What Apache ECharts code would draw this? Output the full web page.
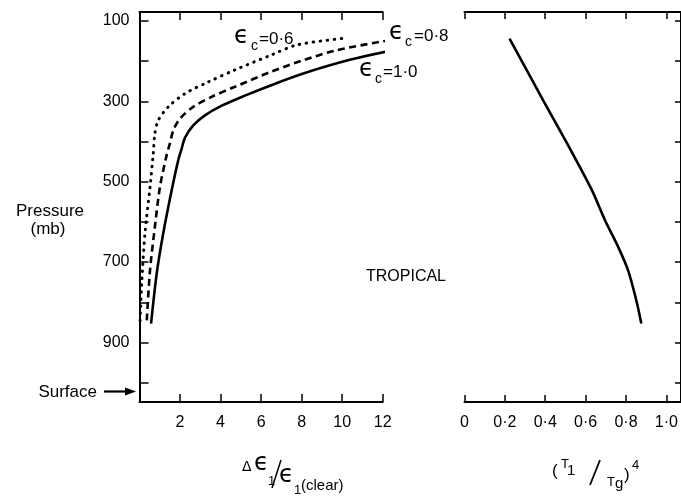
<!DOCTYPE html>
<html>
<head>
<meta charset="utf-8">
<script src="https://cdn.jsdelivr.net/npm/echarts@6/dist/echarts.min.js"></script>
<style>html,body{margin:0;padding:0;background:#fff}#c{width:681px;height:498px}</style>
</head>
<body>
<div id="c"></div>
<script>
// ---- data ----
const ratioSolid    = [0.57, 0.85, 1.17, 1.59, 1.91, 2.08, 2.24, 2.65, 3.23, 4.06, 5.2, 6.5, 8.08, 10.38, 12.52];
const pressureSolid = [853, 728, 629, 521, 447, 418, 391, 360, 335, 311, 286, 260, 231, 197, 173];
const ratioDash     = [0.36, 0.52, 0.76, 1.01, 1.34, 1.5, 1.67, 2.0, 2.65, 3.56, 4.71, 6.52, 8.08, 9.73, 12.36];
const pressureDash  = [845, 720, 612, 513, 434, 405, 372, 343, 314, 289, 264, 226, 198, 173, 148];
const ratioDot      = [0.03, 0.11, 0.27, 0.52, 0.68, 0.76, 0.93, 1.42, 2.24, 3.39, 4.71, 6.5, 7.76, 9.98];
const pressureDot   = [845, 753, 629, 513, 430, 380, 347, 314, 281, 252, 222, 185, 160, 144];
const tempRatio     = [0.223, 0.389, 0.517, 0.631, 0.696, 0.761, 0.810, 0.851, 0.876];
const tempPressure  = [144, 297, 413, 521, 596, 662, 720, 795, 853];
const pressureTicks = [100, 200, 300, 400, 500, 600, 700, 800, 900, 1000];
const pressureLabels = [100, 300, 500, 700, 900];
const tempTicks = [0, 0.2, 0.4, 0.6, 0.8, 1.0];
const tempTickLabels = ['0', '0·2', '0·4', '0·6', '0·8', '1·0'];

const pairs = (xs, ys) => xs.map((x, i) => [x, ys[i]]);
const FONT = '"Liberation Sans", "DejaVu Sans", sans-serif';
const EPS = '"DejaVu Sans", sans-serif';
const axisLine = {show: true, onZero: false, lineStyle: {color: '#000', width: 2}};
const lbl = {color: '#000', fontSize: 16, fontFamily: FONT};

const chart = echarts.init(document.getElementById('c'), null, {renderer: 'canvas'});

function txt(x, y, text, size, opts) {
  opts = opts || {};
  return {type: 'text', x: x, y: y, silent: true,
    style: {text: text, fill: '#000', fontSize: size, fontFamily: opts.family || FONT,
      textAlign: opts.align || 'left', textVerticalAlign: 'middle', verticalAlign: 'middle'}};
}
function seg(x1, y1, x2, y2, w) {
  return {type: 'line', silent: true, shape: {x1: x1, y1: y1, x2: x2, y2: y2},
    style: {stroke: '#000', lineWidth: w || 1.5}};
}
const tickStyle = {color: '#000', width: 1.5};

const option = {
  backgroundColor: '#fff',
  animation: false,
  grid: [
    {left: 139.5, top: 12, width: 243.2, height: 390},
    {left: 464.5, top: 12, width: 219, height: 390}
  ],
  xAxis: [
    {gridIndex: 0, type: 'value', min: 0, max: 12, interval: 2, position: 'bottom',
      axisLine: axisLine, axisTick: {inside: true, length: 8, lineStyle: tickStyle},
      axisLabel: Object.assign({margin: 13, formatter: v => v === 0 ? '' : String(v)}, lbl),
      splitLine: {show: false}},
    {gridIndex: 0, type: 'value', min: 0, max: 12, interval: 2, position: 'top',
      axisLine: axisLine, axisTick: {inside: true, length: 8, lineStyle: tickStyle},
      axisLabel: {show: false}, splitLine: {show: false}},
    {gridIndex: 1, type: 'value', min: 0, max: 1.0725, position: 'bottom',
      axisLine: axisLine,
      axisTick: {inside: true, length: 7, customValues: tempTicks, lineStyle: tickStyle},
      axisLabel: Object.assign({margin: 13, customValues: tempTicks,
        formatter: v => { const i = tempTicks.findIndex(t => Math.abs(t - v) < 1e-6); return i < 0 ? '' : tempTickLabels[i]; }}, lbl),
      splitLine: {show: false}},
    {gridIndex: 1, type: 'value', min: 0, max: 1.0725, position: 'top',
      axisLine: axisLine,
      axisTick: {inside: true, length: 7, customValues: tempTicks, lineStyle: tickStyle},
      axisLabel: {show: false}, splitLine: {show: false}}
  ],
  yAxis: [
    {gridIndex: 0, type: 'value', min: 78, max: 1048, inverse: true, position: 'left',
      axisLine: axisLine,
      axisTick: {inside: true, length: 9, customValues: pressureTicks, lineStyle: tickStyle},
      axisLabel: Object.assign({margin: 10, customValues: pressureLabels}, lbl),
      splitLine: {show: false}},
    {gridIndex: 1, type: 'value', min: 78, max: 1048, inverse: true, position: 'right',
      axisLine: axisLine,
      axisTick: {inside: true, length: 6, customValues: pressureTicks, lineStyle: tickStyle},
      axisLabel: {show: false}, splitLine: {show: false}}
  ],
  series: [
    {name: 'εc=1.0', type: 'line', xAxisIndex: 0, yAxisIndex: 0, data: pairs(ratioSolid, pressureSolid),
      symbol: 'none', smooth: 0.3, clip: false, lineStyle: {color: '#000', width: 2.6}},
    {name: 'εc=0.8', type: 'line', xAxisIndex: 0, yAxisIndex: 0, data: pairs(ratioDash, pressureDash),
      symbol: 'none', smooth: 0.3, clip: false, lineStyle: {color: '#000', width: 2.6, type: [7, 4.5]}},
    {name: 'εc=0.6', type: 'line', xAxisIndex: 0, yAxisIndex: 0, data: pairs(ratioDot, pressureDot),
      symbol: 'none', smooth: 0.3, clip: false, lineStyle: {color: '#000', width: 3, type: [0.5, 6.5], cap: 'round'}},
    {name: 'T', type: 'line', xAxisIndex: 2, yAxisIndex: 1, data: pairs(tempRatio, tempPressure),
      symbol: 'none', smooth: 0.3, clip: false, lineStyle: {color: '#000', width: 2.6}}
  ],
  graphic: [
    txt(50, 211, 'Pressure', 17, {align: 'center'}),
    txt(48, 229, '(mb)', 17, {align: 'center'}),
    txt(97, 392, 'Surface', 17, {align: 'right'}),
    seg(104, 391.5, 128, 391.5, 2.2),
    {type: 'polygon', silent: true, shape: {points: [[136, 391.5], [125, 387.5], [125, 395.5]]}, style: {fill: '#000'}},
    txt(406, 277, 'TROPICAL', 16, {align: 'center'}),
    // curve labels
    txt(234, 36.5, 'ϵ', 24, {family: EPS}), txt(251, 46, 'c', 14), txt(259, 39, '=0·6', 17),
    txt(389, 33, 'ϵ', 24, {family: EPS}), txt(405, 42, 'c', 14), txt(414, 36, '=0·8', 17),
    txt(359, 70, 'ϵ', 24, {family: EPS}), txt(375, 79, 'c', 14), txt(383, 72, '=1·0', 17),
    // left x title
    txt(242, 467, 'Δ', 14, {family: EPS}),
    txt(254, 463.5, 'ϵ', 24, {family: EPS}),
    txt(268, 481, '1', 13),
    seg(281, 460, 272, 488, 1.5),
    txt(279, 475.5, 'ϵ', 24, {family: EPS}),
    txt(294, 490, '1', 13),
    txt(301, 486, '(clear)', 15),
    // right x title
    txt(552, 471, '(', 17),
    txt(561, 464, 'T', 13),
    txt(567, 471, '1', 15),
    seg(600, 460, 590, 485, 1.8),
    txt(607, 482, 'T', 13),
    txt(615, 484, 'g', 15),
    txt(624, 475, ')', 17),
    txt(632, 465, '4', 13)
  ]
};
chart.setOption(option);
</script>
</body>
</html>
